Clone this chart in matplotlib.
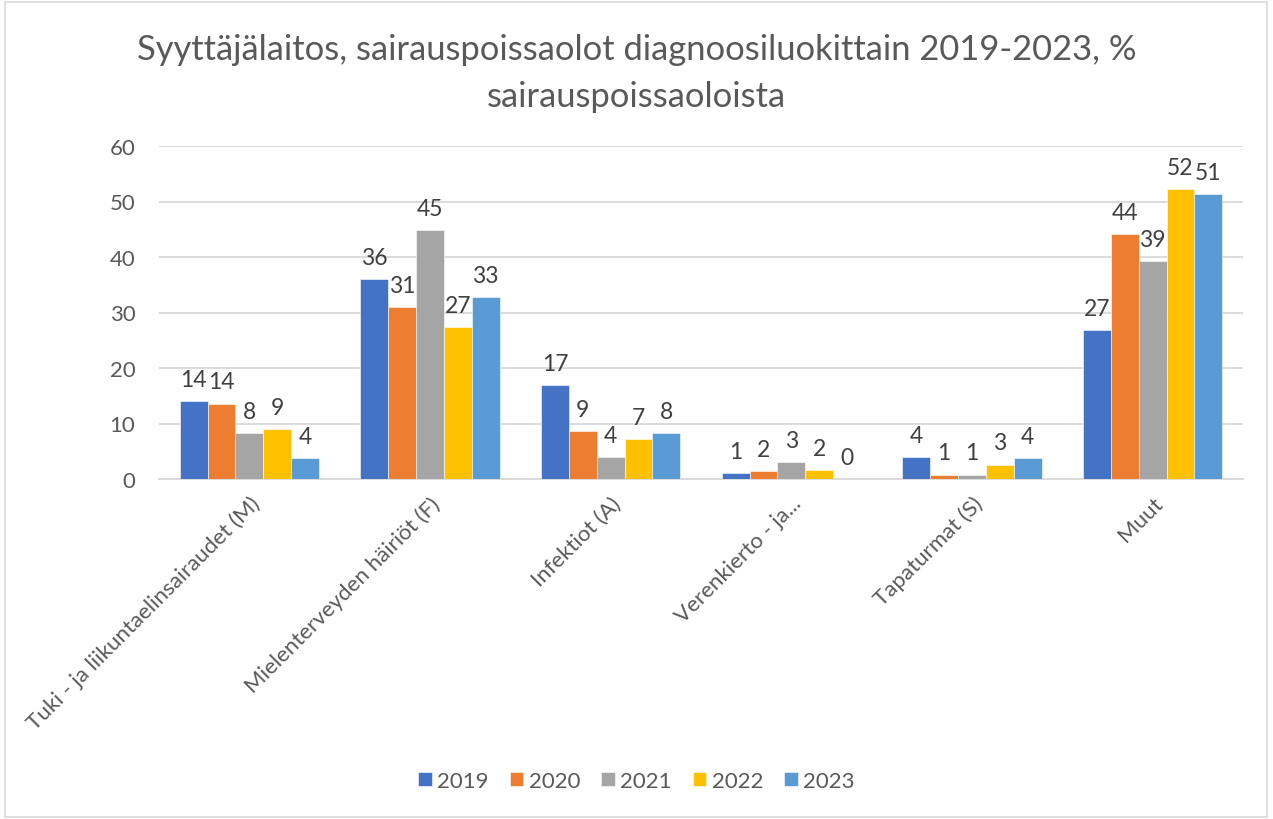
import matplotlib
matplotlib.use('Agg')
import matplotlib.pyplot as plt
import numpy as np

plt.rcParams['font.family'] = ['Lato', 'DejaVu Sans']

categories = ["Tuki - ja liikuntaelinsairaudet (M)", "Mielenterveyden häiriöt (F)",
              "Infektiot (A)", "Verenkierto - ja...", "Tapaturmat (S)", "Muut"]
years = ["2019", "2020", "2021", "2022", "2023"]
v2019 = [14.0, 36.0, 16.9, 1.0, 4.0, 26.9]
v2020 = [13.6, 31.0, 8.7, 1.5, 0.8, 44.2]
v2021 = [8.2, 44.8, 3.9, 3.0, 0.8, 39.2]
v2022 = [9.0, 27.4, 7.2, 1.6, 2.6, 52.2]
v2023 = [3.7, 32.8, 8.2, 0.0, 3.8, 51.4]
series = [v2019, v2020, v2021, v2022, v2023]
colors = ['#4472C4', '#ED7D31', '#A5A5A5', '#FFC000', '#5B9BD5']

TEXT = '#595959'
LABEL = '#404040'

fig = plt.figure(figsize=(12.73, 8.2), dpi=100)
ax = fig.add_axes([159/1273, 1-480/820, (1243-159)/1273, (480-147)/820])

x = np.arange(len(categories))
w = 0.154
for i, (vals, col, yr) in enumerate(zip(series, colors, years)):
    pos = x + (i - 2) * w
    ax.bar(pos, vals, width=w, color=col, label=yr, zorder=3,
           edgecolor='white', linewidth=0.4)
    for px, v in zip(pos, vals):
        ax.text(px, v + 2.0, "%d" % round(v), ha='center', va='bottom',
                fontsize=16.5, color=LABEL)

ax.set_xlim(-0.5, len(categories) - 0.5)
ax.set_ylim(0, 60)
ax.set_yticks(range(0, 61, 10))
ax.yaxis.grid(True, color='#D9D9D9', linewidth=1.3, zorder=0)
for s in ['top', 'right', 'left']:
    ax.spines[s].set_visible(False)
ax.spines['bottom'].set_color('#D9D9D9')
ax.spines['bottom'].set_linewidth(1.3)
ax.tick_params(axis='both', length=0, labelsize=16, colors=TEXT)
ax.tick_params(axis='y', pad=17)
ax.set_xticks(x)
ax.set_xticklabels(categories, rotation=45, ha='right', rotation_mode='anchor')
ax.tick_params(axis='x', pad=10)

fig.text(0.5, 1-50/820, "Syyttäjälaitos, sairauspoissaolot diagnoosiluokittain 2019-2023, %",
         ha='center', va='center', fontsize=24.8, color=TEXT)
fig.text(0.5, 1-97/820, "sairauspoissaoloista",
         ha='center', va='center', fontsize=24.8, color=TEXT)

leg = fig.legend(loc='center', bbox_to_anchor=(0.5, 1-782/820), ncol=5,
                 frameon=False, fontsize=16, handlelength=0.6, handleheight=0.6,
                 handletextpad=0.25, columnspacing=0.95)
for t in leg.get_texts():
    t.set_color(TEXT)

fig.patches.append(plt.Rectangle((5/1273, 2/820), 1-11/1273, 1-5/820,
                                 transform=fig.transFigure, fill=False,
                                 edgecolor='#D9D9D9', linewidth=1.2))

fig.savefig('out.png', dpi=100)
